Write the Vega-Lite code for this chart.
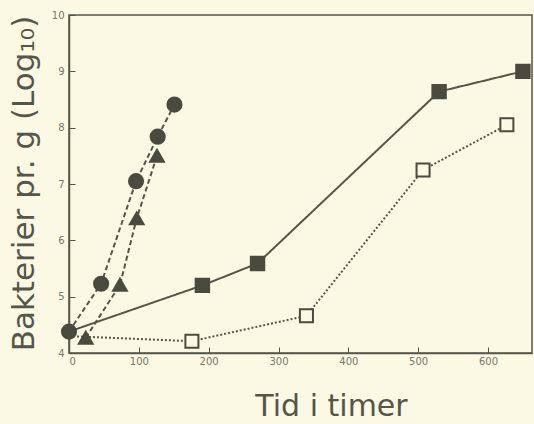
{
  "$schema": "https://vega.github.io/schema/vega-lite/v6.json",
  "width": 463,
  "height": 338,
  "autosize": "none",
  "padding": {"left": 69, "top": 15, "right": 2, "bottom": 71},
  "background": "#fbf9e4",
  "config": {
    "view": {"stroke": "#55554a", "strokeWidth": 1.5},
    "axis": {
      "grid": false,
      "domainColor": "#55554a",
      "domainWidth": 1.5,
      "tickColor": "#55554a",
      "tickWidth": 1,
      "tickSize": -6,
      "labelColor": "#77776a",
      "labelFont": "DejaVu Sans",
      "labelFontSize": 10,
      "titleColor": "#55554a",
      "titleFont": "DejaVu Sans",
      "titleFontWeight": "normal"
    }
  },
  "datasets": {
    "lines": [
      {"series": "circle", "t": 0, "logc": 4.38},
      {"series": "circle", "t": 46, "logc": 5.23},
      {"series": "circle", "t": 96, "logc": 7.05},
      {"series": "circle", "t": 127, "logc": 7.84},
      {"series": "circle", "t": 151, "logc": 8.41},
      {"series": "triangle", "t": 24, "logc": 4.27},
      {"series": "triangle", "t": 73, "logc": 5.21},
      {"series": "triangle", "t": 97, "logc": 6.39},
      {"series": "triangle", "t": 126, "logc": 7.5},
      {"series": "filled square", "t": 0, "logc": 4.38},
      {"series": "filled square", "t": 191, "logc": 5.2},
      {"series": "filled square", "t": 270, "logc": 5.59},
      {"series": "filled square", "t": 530, "logc": 8.64},
      {"series": "filled square", "t": 650, "logc": 9.0},
      {"series": "open square", "t": 0, "logc": 4.3},
      {"series": "open square", "t": 176, "logc": 4.21},
      {"series": "open square", "t": 340, "logc": 4.66},
      {"series": "open square", "t": 507, "logc": 7.25},
      {"series": "open square", "t": 627, "logc": 8.05}
    ],
    "points": [
      {"series": "circle", "t": 0, "logc": 4.38},
      {"series": "circle", "t": 46, "logc": 5.23},
      {"series": "circle", "t": 96, "logc": 7.05},
      {"series": "circle", "t": 127, "logc": 7.84},
      {"series": "circle", "t": 151, "logc": 8.41},
      {"series": "triangle", "t": 24, "logc": 4.27},
      {"series": "triangle", "t": 73, "logc": 5.21},
      {"series": "triangle", "t": 97, "logc": 6.39},
      {"series": "triangle", "t": 126, "logc": 7.5},
      {"series": "filled square", "t": 191, "logc": 5.2},
      {"series": "filled square", "t": 270, "logc": 5.59},
      {"series": "filled square", "t": 530, "logc": 8.64},
      {"series": "filled square", "t": 650, "logc": 9.0},
      {"series": "open square", "t": 176, "logc": 4.21},
      {"series": "open square", "t": 340, "logc": 4.66},
      {"series": "open square", "t": 507, "logc": 7.25},
      {"series": "open square", "t": 627, "logc": 8.05}
    ]
  },
  "encoding": {
    "x": {
      "field": "t", "type": "quantitative",
      "scale": {"domain": [0, 663], "nice": false},
      "axis": {
        "values": [0, 100, 200, 300, 400, 500, 600],
        "labelPadding": 9,
        "title": "Tid i timer",
        "titleFontSize": 30,
        "titleX": 262,
        "titleY": 62,
        "titleAlign": "center",
        "titleBaseline": "alphabetic",
        "titleAnchor": null
      }
    },
    "y": {
      "field": "logc", "type": "quantitative",
      "scale": {"domain": [4, 10], "nice": false, "zero": false},
      "axis": {
        "values": [4, 5, 6, 7, 8, 9, 10],
        "labelPadding": 11,
        "title": "Bakterier pr. g (Log₁₀)",
        "titleFontSize": 31,
        "titleX": -36,
        "titleY": 168,
        "titleAngle": -90,
        "titleAlign": "center",
        "titleBaseline": "alphabetic",
        "titleAnchor": null
      }
    }
  },
  "layer": [
    {
      "data": {"name": "lines"},
      "mark": {"type": "line", "color": "#55554a"},
      "encoding": {
        "detail": {"field": "series"},
        "strokeDash": {
          "field": "series", "type": "nominal", "legend": null,
          "scale": {"domain": ["circle", "triangle", "filled square", "open square"], "range": [[5, 3], [5, 3], [1, 0], [2, 2]]}
        },
        "strokeWidth": {
          "field": "series", "type": "nominal", "legend": null,
          "scale": {"domain": ["circle", "triangle", "filled square", "open square"], "range": [2, 2, 1.5, 1.2]}
        }
      }
    },
    {
      "data": {"name": "points"},
      "mark": {"type": "point", "filled": false, "stroke": "#4a4a3f", "strokeWidth": 2, "opacity": 1},
      "encoding": {
        "shape": {
          "field": "series", "type": "nominal", "legend": null,
          "scale": {"domain": ["circle", "triangle", "filled square", "open square"], "range": ["circle", "triangle-up", "square", "square"]}
        },
        "fill": {
          "field": "series", "type": "nominal", "legend": null,
          "scale": {"domain": ["circle", "triangle", "filled square", "open square"], "range": ["#4a4a3f", "#4a4a3f", "#4a4a3f", "#fbf9e4"]}
        },
        "size": {
          "field": "series", "type": "nominal", "legend": null,
          "scale": {"domain": ["circle", "triangle", "filled square", "open square"], "range": [200, 170, 170, 140]}
        }
      }
    }
  ]
}
